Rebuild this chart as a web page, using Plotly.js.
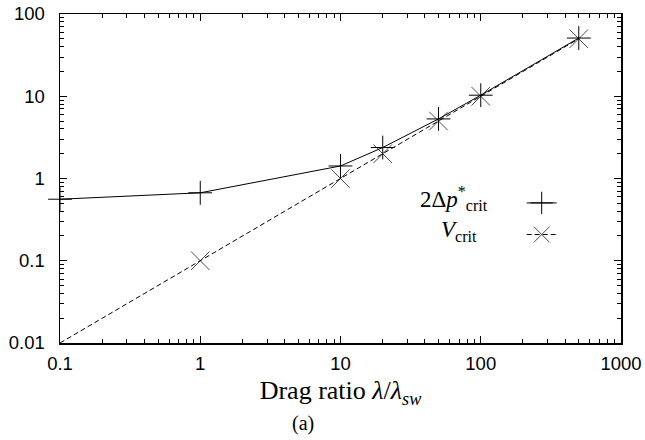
<!DOCTYPE html>
<html>
<head>
<meta charset="utf-8">
<script src="https://cdn.plot.ly/plotly-3.0.1.min.js"></script>
<style>html,body{margin:0;padding:0;background:#fff;}#chart{width:645px;height:440px;}</style>
</head>
<body>
<div id="chart"></div>
<script>
// Data
const dragRatio1 = [0.1, 1, 10, 20, 50, 100, 500];
const dpCrit     = [0.56, 0.67, 1.42, 2.38, 5.3, 10.3, 51];
const dragRatio2 = [0.1, 1, 10, 20, 50, 100, 500];
const vCrit      = [0.01, 0.1, 1.0, 2.0, 5.0, 10, 50];

const xTickVals = [0.1, 1, 10, 100, 1000];
const xTickText = ['0.1', '1', '10', '100', '1000'];
const yTickVals = [0.01, 0.1, 1, 10, 100];
const yTickText = ['0.01', '0.1', '1', '10', '100'];

function minorVals(decades) {
  const out = [];
  decades.slice(0, -1).forEach(d => { for (let k = 2; k <= 9; k++) out.push(+(d * k).toPrecision(6)); });
  return out;
}

const traces = [
  {
    x: dragRatio1, y: dpCrit, type: 'scatter', mode: 'lines+markers', name: ' ',
    line: {color: '#000', width: 1},
    marker: {symbol: 'cross-thin', size: 17, color: '#000', line: {color: '#000', width: 1}},
    cliponaxis: false
  },
  {
    x: dragRatio2, y: vCrit, type: 'scatter', mode: 'lines+markers', name: '  ',
    line: {color: '#000', width: 1, dash: '5px,3px'},
    marker: {symbol: 'x-thin', size: dragRatio2.map(v => v <= 0.1 ? 0 : 18.5), color: '#000', line: {color: '#000', width: 1}},
    cliponaxis: false
  }
];

const axisCommon = {
  type: 'log', showgrid: false, zeroline: false,
  showline: true, linecolor: '#000', linewidth: 1.5, mirror: 'allticks',
  ticks: 'inside', ticklen: 7, tickwidth: 1.2, tickcolor: '#000',
  tickmode: 'array',
  tickfont: {family: 'Liberation Sans', size: 18.5, color: '#000'}
};
const minorCommon = {ticks: 'inside', ticklen: 4, tickwidth: 1, tickcolor: '#000', tickmode: 'array', showgrid: false};

const layout = {
  width: 645, height: 440,
  margin: {l: 60, r: 24, t: 14, b: 97},
  paper_bgcolor: '#fff', plot_bgcolor: '#fff',
  showlegend: true,
  legend: {x: 0.823, y: 0.489, xanchor: 'left', yanchor: 'top', bgcolor: 'rgba(0,0,0,0)',
           font: {family: 'Liberation Serif', size: 22, color: '#000'}},
  xaxis: Object.assign({}, axisCommon, {
    range: [-1, 3], tickvals: xTickVals, ticktext: xTickText,
    minor: Object.assign({}, minorCommon, {tickvals: minorVals(xTickVals)}),
    ticklabelstandoff: 3,
    title: {text: 'Drag ratio <i>λ</i>/<i>λ</i><sub><i>sw</i></sub>', standoff: 8,
            font: {family: 'Liberation Serif', size: 26, color: '#000'}}
  }),
  yaxis: Object.assign({}, axisCommon, {
    range: [-2, 2], tickvals: yTickVals, ticktext: yTickText,
    minor: Object.assign({}, minorCommon, {tickvals: minorVals(yTickVals)}),
    ticklabelstandoff: 10
  }),
  annotations: [
    {xref: 'paper', yref: 'paper', x: 0.767, y: 0.438, xanchor: 'right', yanchor: 'middle', showarrow: false,
     text: '2Δ<i>p</i><sup>*</sup><sub>crit</sub>', font: {family: 'Liberation Serif', size: 23, color: '#000'}},
    {xref: 'paper', yref: 'paper', x: 0.746, y: 0.340, xanchor: 'right', yanchor: 'middle', showarrow: false,
     text: '<i>V</i><sub>crit</sub>', font: {family: 'Liberation Serif', size: 23, color: '#000'}},
    {xref: 'paper', yref: 'paper', x: 0.433, y: -0.246, xanchor: 'center', yanchor: 'middle', showarrow: false,
     text: '(a)', font: {family: 'Liberation Serif', size: 20, color: '#000'}}
  ]
};

Plotly.newPlot('chart', traces, layout, {displayModeBar: false, staticPlot: true});
</script>
</body>
</html>
